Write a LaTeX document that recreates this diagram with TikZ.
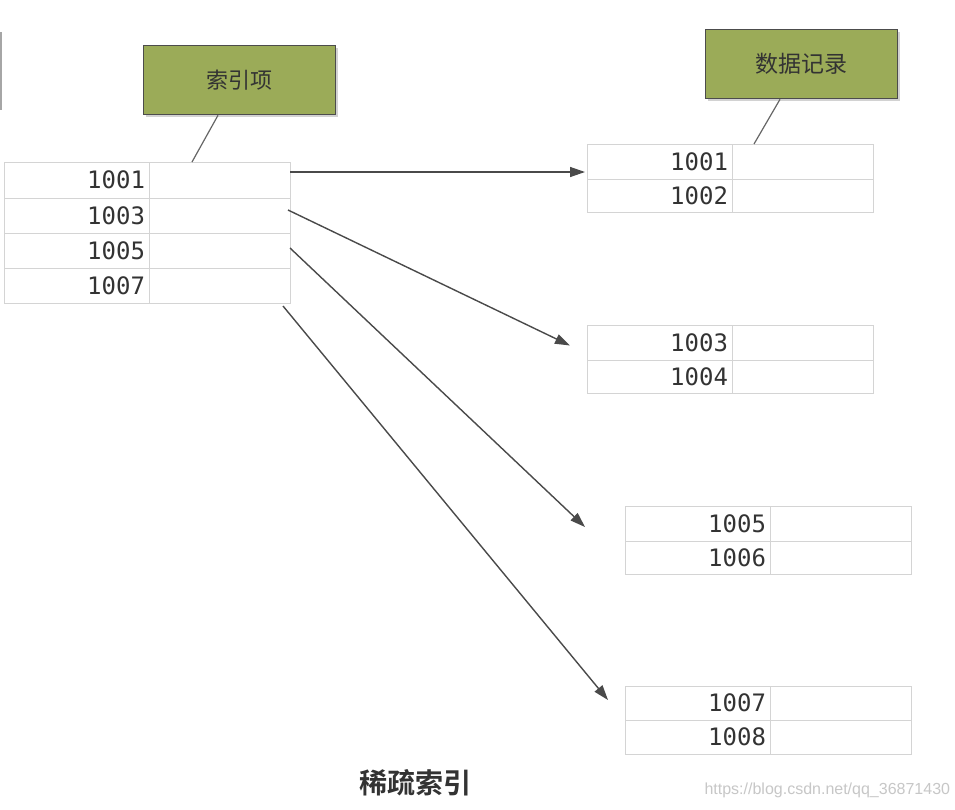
\documentclass[tikz,border=0pt]{standalone}
\usepackage{fontspec}
\newfontfamily\numfont{DejaVu Sans Mono}
\newfontfamily\cjk{Noto Sans CJK SC}
\newfontfamily\cjkbold{Noto Sans CJK SC Bold}
\setmainfont{Liberation Sans}
\usetikzlibrary{arrows.meta,shadows}
\definecolor{gridgray}{HTML}{D4D4D4}
\definecolor{olive}{HTML}{9BAB58}
\definecolor{linegray}{HTML}{4A4A4A}
\begin{document}
\begin{tikzpicture}[x=1pt,y=-1pt,
  cellL/.style={draw=gridgray, line width=0.9pt, anchor=north west, inner xsep=4pt, inner ysep=0pt,
     minimum height=#1, text width=137pt, align=right, font=\numfont\fontsize{24}{24}\selectfont, text=black!80, outer sep=0pt},
  cellR/.style={draw=gridgray, line width=0.9pt, anchor=north west, inner sep=0pt,
     minimum height=#1, minimum width=141pt, outer sep=0pt},
  greenbox/.style={draw=black!70, line width=1.3pt, fill=olive, anchor=north west, inner sep=0pt,
     minimum width=192pt, minimum height=69pt, text=black!80,
     drop shadow={shadow xshift=2.5pt, shadow yshift=-2.5pt, opacity=0.35}},
  callout/.style={draw=black!60, line width=1.2pt},
  ptr/.style={draw=linegray, line width=1.4pt, -{Triangle[length=15pt,width=10pt]}},
]
\useasboundingbox (0,0) rectangle (955,809);
\fill[white] (0,0) rectangle (955,809);
% cropped edge at left
\draw[gray!70, line width=1.5pt] (1,32) -- (1,110);

% labels
\node[greenbox, font=\cjk\fontsize{22}{22}\selectfont] (k1) at (143,45) {索引项};
\node[greenbox, font=\cjk\fontsize{23}{23}\selectfont] (k2) at (705,29) {数据记录};

% index table
\node[cellL=36pt] (i1) at (4,162) {1001};
\node[cellR=36pt] (i1r) at (149,162) {};
\node[cellL=35pt] (i2) at (4,198) {1003};
\node[cellR=35pt] (i2r) at (149,198) {};
\node[cellL=35pt] (i3) at (4,233) {1005};
\node[cellR=35pt] (i3r) at (149,233) {};
\node[cellL=35pt] (i4) at (4,268) {1007};
\node[cellR=35pt] (i4r) at (149,268) {};

% data tables
\node[cellL=35pt] (a1) at (587,144) {1001};
\node[cellR=35pt] (a1r) at (732,144) {};
\node[cellL=33pt] (a2) at (587,179) {1002};
\node[cellR=33pt] (a2r) at (732,179) {};

\node[cellL=35pt] (b1) at (587,325) {1003};
\node[cellR=35pt] (b1r) at (732,325) {};
\node[cellL=33pt] (b2) at (587,360) {1004};
\node[cellR=33pt] (b2r) at (732,360) {};

\node[cellL=35pt] (c1) at (625,506) {1005};
\node[cellR=35pt] (c1r) at (770,506) {};
\node[cellL=33pt] (c2) at (625,541) {1006};
\node[cellR=33pt] (c2r) at (770,541) {};

\node[cellL=34pt] (d1) at (625,686) {1007};
\node[cellR=34pt] (d1r) at (770,686) {};
\node[cellL=34pt] (d2) at (625,720) {1008};
\node[cellR=34pt] (d2r) at (770,720) {};

% callout lines
\draw[callout] ([xshift=75pt]k1.south west) -- ([xshift=43pt]i1r.north west);
\draw[callout] ([xshift=75pt]k2.south west) -- ([xshift=22pt]a1r.north west);

% pointers
\draw[ptr] ([yshift=8pt]i1r.east) -- ([xshift=-2pt,yshift=-10.5pt]a1.west);
\draw[ptr] ([xshift=-2pt,yshift=5.5pt]i2r.east) -- ([xshift=-17pt,yshift=-3pt]b1.west);
\draw[ptr] ([yshift=2.5pt]i3r.east) -- ([xshift=-40pt,yshift=-3.5pt]c1.west);
\draw[ptr] ([xshift=-7pt,yshift=-3pt]i4r.south east) -- ([xshift=-17pt,yshift=3pt]d1.west);

% caption and watermark
\node[font=\cjkbold\fontsize{28}{28}\selectfont, text=black!80] (cap) at (415,783) {稀疏索引};
\node[font=\fontsize{16}{16}\selectfont, text=black!22, anchor=west] (wm) at (701,790) {https://blog.csdn.net/qq\_36871430};
\end{tikzpicture}
\end{document}
